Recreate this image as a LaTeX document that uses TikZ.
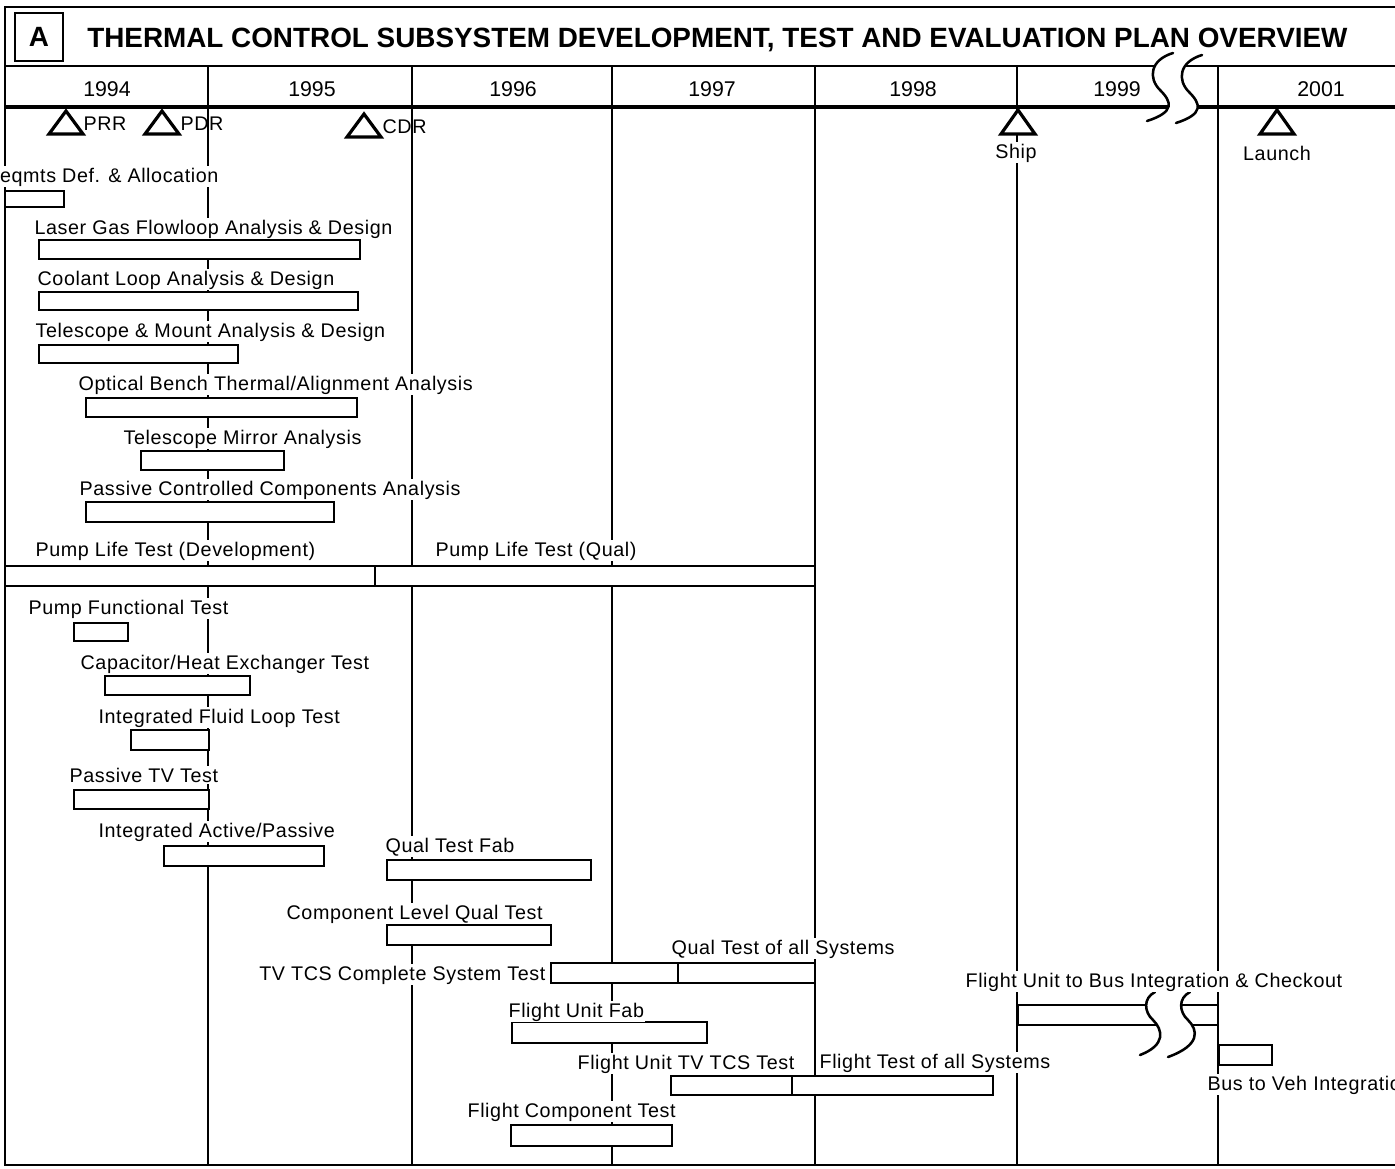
\documentclass[tikz,border=0pt]{standalone}
\usepackage{fontspec}
\setmainfont{Liberation Sans}
\newfontfamily\lblfamily[LetterSpace=3]{Liberation Sans}
\newcommand\lblfont{\lblfamily\fontsize{14.8pt}{17pt}\selectfont}
\newcommand\yrfont{\rmfamily\fontsize{16pt}{18pt}\selectfont}
\newcommand\ttlfont{\rmfamily\bfseries\fontsize{20.9pt}{24pt}\selectfont}
\begin{document}
\begin{tikzpicture}[x=0.75pt,y=-0.75pt,
  lbl/.style={font=\lblfont, inner sep=1pt, fill=white, anchor=base west},
  yr/.style={font=\yrfont, inner sep=1pt},
  ganttbar/.style={draw, fill=white, line width=1.5pt},
  gridline/.style={line width=1.7pt},
  frameline/.style={line width=2pt},
  breakline/.style={line width=1.9pt, line cap=round},
  milestone/.style={draw, fill=white, line width=2.4pt, line join=miter}]

% page
\fill[white] (0,0) rectangle (1395,1168);
\useasboundingbox (0,0) rectangle (1395,1168);

% year dividers
\foreach \gx in {208,412,612,815,1017,1218}
  \draw[gridline] (\gx,66) -- (\gx,1165);

% outer frame and header rules
\draw[frameline] (1400,7) -- (5,7) -- (5,1165) -- (1400,1165);
\draw[frameline] (5,66) -- (1400,66);
\draw[line width=2.4pt] (5,107) -- (1400,107);

% time-axis break
\fill[white] (1173,53) .. controls (1150,60) and (1148,78) .. (1160,90)
  .. controls (1172,102) and (1175,112) .. (1147,121)
  -- (1176,123) .. controls (1204,114) and (1201,104) .. (1189,92)
  .. controls (1177,80) and (1179,62) .. (1202,55) -- cycle;
\draw[breakline] (1173,53) .. controls (1150,60) and (1148,78) .. (1160,90)
  .. controls (1172,102) and (1175,112) .. (1147,121);
\draw[breakline] (1202,55) .. controls (1179,62) and (1177,80) .. (1189,92)
  .. controls (1201,104) and (1204,114) .. (1176,123);

% title
\draw[line width=2pt] (15,13) rectangle (63,61);
\node[font=\ttlfont, inner sep=0pt] (tag) at (39,37) {A};
\node[font=\ttlfont, inner sep=0pt, anchor=base west] (title) at (87,47)
  {THERMAL CONTROL SUBSYSTEM DEVELOPMENT, TEST AND EVALUATION PLAN OVERVIEW};

% years
\node[yr] (y94) at (107,89) {1994};
\node[yr] (y95) at (312,89) {1995};
\node[yr] (y96) at (513,89) {1996};
\node[yr] (y97) at (712,89) {1997};
\node[yr] (y98) at (913,89) {1998};
\node[yr] (y99) at (1117,89) {1999};
\node[yr] (y01) at (1321,89) {2001};

% milestones
\draw[milestone] (49,134) -- (66,111) -- (83,134) -- cycle;
\node[lbl, fill=none] (prr) at (82,130) {PRR};
\draw[milestone] (145,134) -- (162,111) -- (179,134) -- cycle;
\node[lbl, fill=none] (pdr) at (179,130) {PDR};
\draw[milestone] (347,137) -- (364,114) -- (381,137) -- cycle;
\node[lbl, fill=none] (cdr) at (381,133) {CDR};
\draw[milestone] (1001,134) -- (1018,110) -- (1035,134) -- cycle;
\node[lbl, anchor=base] (ship) at (1016,158) {Ship};
\draw[milestone] (1260,134) -- (1277,110) -- (1294,134) -- cycle;
\node[lbl, anchor=base] (launch) at (1277,160) {Launch};

% activity bars
\draw[ganttbar] (5,191) rectangle (64,207);
\draw[ganttbar] (39,240) rectangle (360,259);
\draw[ganttbar] (39,292) rectangle (358,310);
\draw[ganttbar] (39,345) rectangle (238,363);
\draw[ganttbar] (86,398) rectangle (357,417);
\draw[ganttbar] (141,451) rectangle (284,470);
\draw[ganttbar] (86,502) rectangle (334,522);
\draw[ganttbar] (5,566) rectangle (815,586);
\draw[ganttbar] (375,566) -- (375,586);
\draw[ganttbar] (74,623) rectangle (128,641);
\draw[ganttbar] (105,676) rectangle (250,695);
\draw[ganttbar] (131,730) rectangle (209,750);
\draw[ganttbar] (74,790) rectangle (209,809);
\draw[ganttbar] (164,846) rectangle (324,866);
\draw[ganttbar] (387,860) rectangle (591,880);
\draw[ganttbar] (387,925) rectangle (551,945);
\draw[ganttbar] (551,963) rectangle (815,983);
\draw[ganttbar] (678,963) -- (678,983);
\draw[ganttbar] (512,1022) rectangle (707,1043);
\draw[ganttbar] (671,1076) rectangle (993,1095);
\draw[ganttbar] (792,1076) -- (792,1095);
\draw[ganttbar] (511,1125) rectangle (672,1146);
\draw[ganttbar] (1018,1005) rectangle (1218,1025);
\draw[ganttbar] (1219,1045) rectangle (1272,1065);

% break in the integration bar
\fill[white] (1155,992) .. controls (1143,998) and (1144,1012) .. (1153,1020)
  .. controls (1163,1030) and (1166,1045) .. (1140,1055)
  -- (1168,1057) .. controls (1201,1045) and (1198,1030) .. (1188,1020)
  .. controls (1179,1012) and (1178,998) .. (1190,992) -- cycle;
\draw[breakline] (1155,992) .. controls (1143,998) and (1144,1012) .. (1153,1020)
  .. controls (1163,1030) and (1166,1045) .. (1140,1055);
\draw[breakline] (1190,992) .. controls (1178,998) and (1179,1012) .. (1188,1020)
  .. controls (1198,1030) and (1201,1045) .. (1168,1057);

% activity labels
\node[lbl, anchor=base east] (reqmts) at (220,182) {Reqmts Def. \& Allocation};
\node[lbl] (laser) at (33,234) {Laser Gas Flowloop Analysis \& Design};
\node[lbl] (coolant) at (36,285) {Coolant Loop Analysis \& Design};
\node[lbl] (mount) at (34,337) {Telescope \& Mount Analysis \& Design};
\node[lbl] (bench) at (77,390) {Optical Bench Thermal/Alignment Analysis};
\node[lbl] (mirror) at (122,444) {Telescope Mirror Analysis};
\node[lbl] (passive) at (78,495) {Passive Controlled Components Analysis};
\node[lbl] (pumpdev) at (34,556) {Pump Life Test (Development)};
\node[lbl] (pumpqual) at (434,556) {Pump Life Test (Qual)};
\node[lbl] (pumpfn) at (27,614) {Pump Functional Test};
\node[lbl] (capac) at (79,669) {Capacitor/Heat Exchanger Test};
\node[lbl] (fluid) at (97,723) {Integrated Fluid Loop Test};
\node[lbl] (ptv) at (68,782) {Passive TV Test};
\node[lbl] (actpas) at (97,837) {Integrated Active/Passive};
\node[lbl] (qfab) at (384,852) {Qual Test Fab};
\node[lbl] (complvl) at (285,919) {Component Level Qual Test};
\node[lbl, anchor=base east] (tvtcs) at (547,980) {TV TCS Complete System Test};
\node[lbl] (qualall) at (670,954) {Qual Test of all Systems};
\node[lbl] (ffab) at (507,1017) {Flight Unit Fab};
\node[lbl] (ftv) at (576,1069) {Flight Unit TV TCS Test};
\node[lbl] (fall) at (818,1068) {Flight Test of all Systems};
\node[lbl] (fcomp) at (466,1117) {Flight Component Test};
\node[lbl] (busint) at (964,987) {Flight Unit to Bus Integration \& Checkout};
\node[lbl] (vehint) at (1206,1090) {Bus to Veh Integration};
\end{tikzpicture}
\end{document}
